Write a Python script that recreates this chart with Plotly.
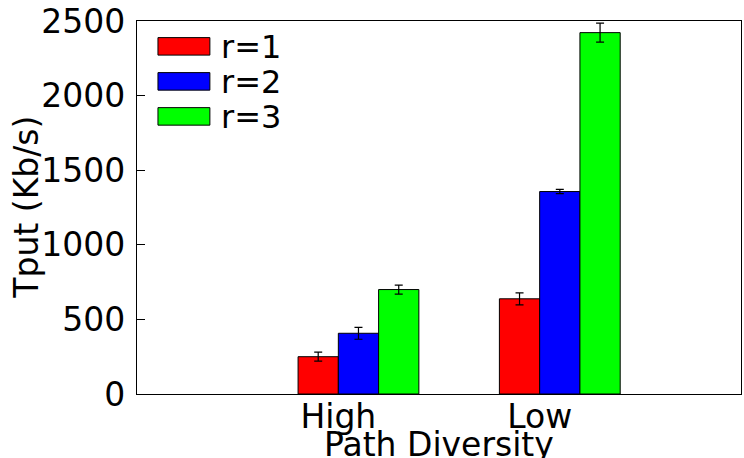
import plotly.graph_objects as go

# Throughput per path-diversity level, one series per replication factor r
categories = ["High", "Low"]
series_names = ["r=1", "r=2", "r=3"]
tput_r1 = [250, 638]
tput_r2 = [407, 1357]
tput_r3 = [700, 2422]
err_r1 = [30, 40]
err_r2 = [40, 14]
err_r3 = [30, 64]

values = [tput_r1, tput_r2, tput_r3]
errors = [err_r1, err_r2, err_r3]
colors = ["#ff0000", "#0000ff", "#00ff00"]
offsets = [-0.1, 0.1, 0.3]
bar_w = 0.2
FONT = "DejaVu Sans"
FS = 33

W, H = 744, 458
L, R, T, B = 137, 2, 19, 64

fig = go.Figure()
base_x = [i + 1 for i in range(len(categories))]
for name, vals, errs, col, off in zip(series_names, values, errors, colors, offsets):
    fig.add_trace(go.Bar(
        x=[b + off for b in base_x], y=vals, width=bar_w, name=name,
        marker=dict(color=col, line=dict(color="black", width=1)),
        error_y=dict(type="data", array=errs, color="black", thickness=1.2, width=4),
        showlegend=False,
    ))

# Hand-drawn legend in the upper-left corner
pw, ph = W - L - R, H - T - B
def px(xp):
    return (xp - L) / pw
def py(yp):
    return (H - B - yp) / ph

for k, (name, col) in enumerate(zip(series_names, colors)):
    top = 35.7 + k * 35.2
    fig.add_shape(type="rect", xref="paper", yref="paper",
                  x0=px(158), x1=px(210), y0=py(top + 17.6), y1=py(top),
                  fillcolor=col, line=dict(color="black", width=1))
    fig.add_annotation(xref="paper", yref="paper", x=px(219), y=py(top + 9),
                       text=name, showarrow=False, xanchor="left", yanchor="middle",
                       font=dict(family=FONT, size=32, color="black"))

# Axis titles
fig.add_annotation(xref="paper", yref="paper", x=0.5, y=py(423), text="Path Diversity",
                   showarrow=False, xanchor="center", yanchor="top",
                   font=dict(family=FONT, size=FS, color="black"))
fig.add_annotation(xref="paper", yref="paper", x=px(26), y=0.5, text="Tput (Kb/s)",
                   textangle=-90, showarrow=False, xanchor="center", yanchor="middle",
                   font=dict(family=FONT, size=FS, color="black"))

fig.update_layout(
    width=W, height=H,
    margin=dict(l=L, r=R, t=T, b=B, pad=0),
    paper_bgcolor="white", plot_bgcolor="white",
    barmode="overlay",
    font=dict(family=FONT, size=FS, color="black"),
    xaxis=dict(range=[0, 3], tickvals=base_x, ticktext=categories,
               showgrid=False, zeroline=False, showline=True, mirror=True,
               linecolor="black", linewidth=1.3, ticks="",
               tickfont=dict(family=FONT, size=FS), ticklabelstandoff=-7),
    yaxis=dict(range=[0, 2500], tickvals=[0, 500, 1000, 1500, 2000, 2500],
               showgrid=False, zeroline=False, showline=True, mirror=True,
               linecolor="black", linewidth=1.3, ticks="inside", ticklen=8,
               tickcolor="black", tickwidth=1, ticklabeloverflow="allow",
               tickfont=dict(family=FONT, size=FS), ticklabelstandoff=4),
)

fig.write_html("out.html")
